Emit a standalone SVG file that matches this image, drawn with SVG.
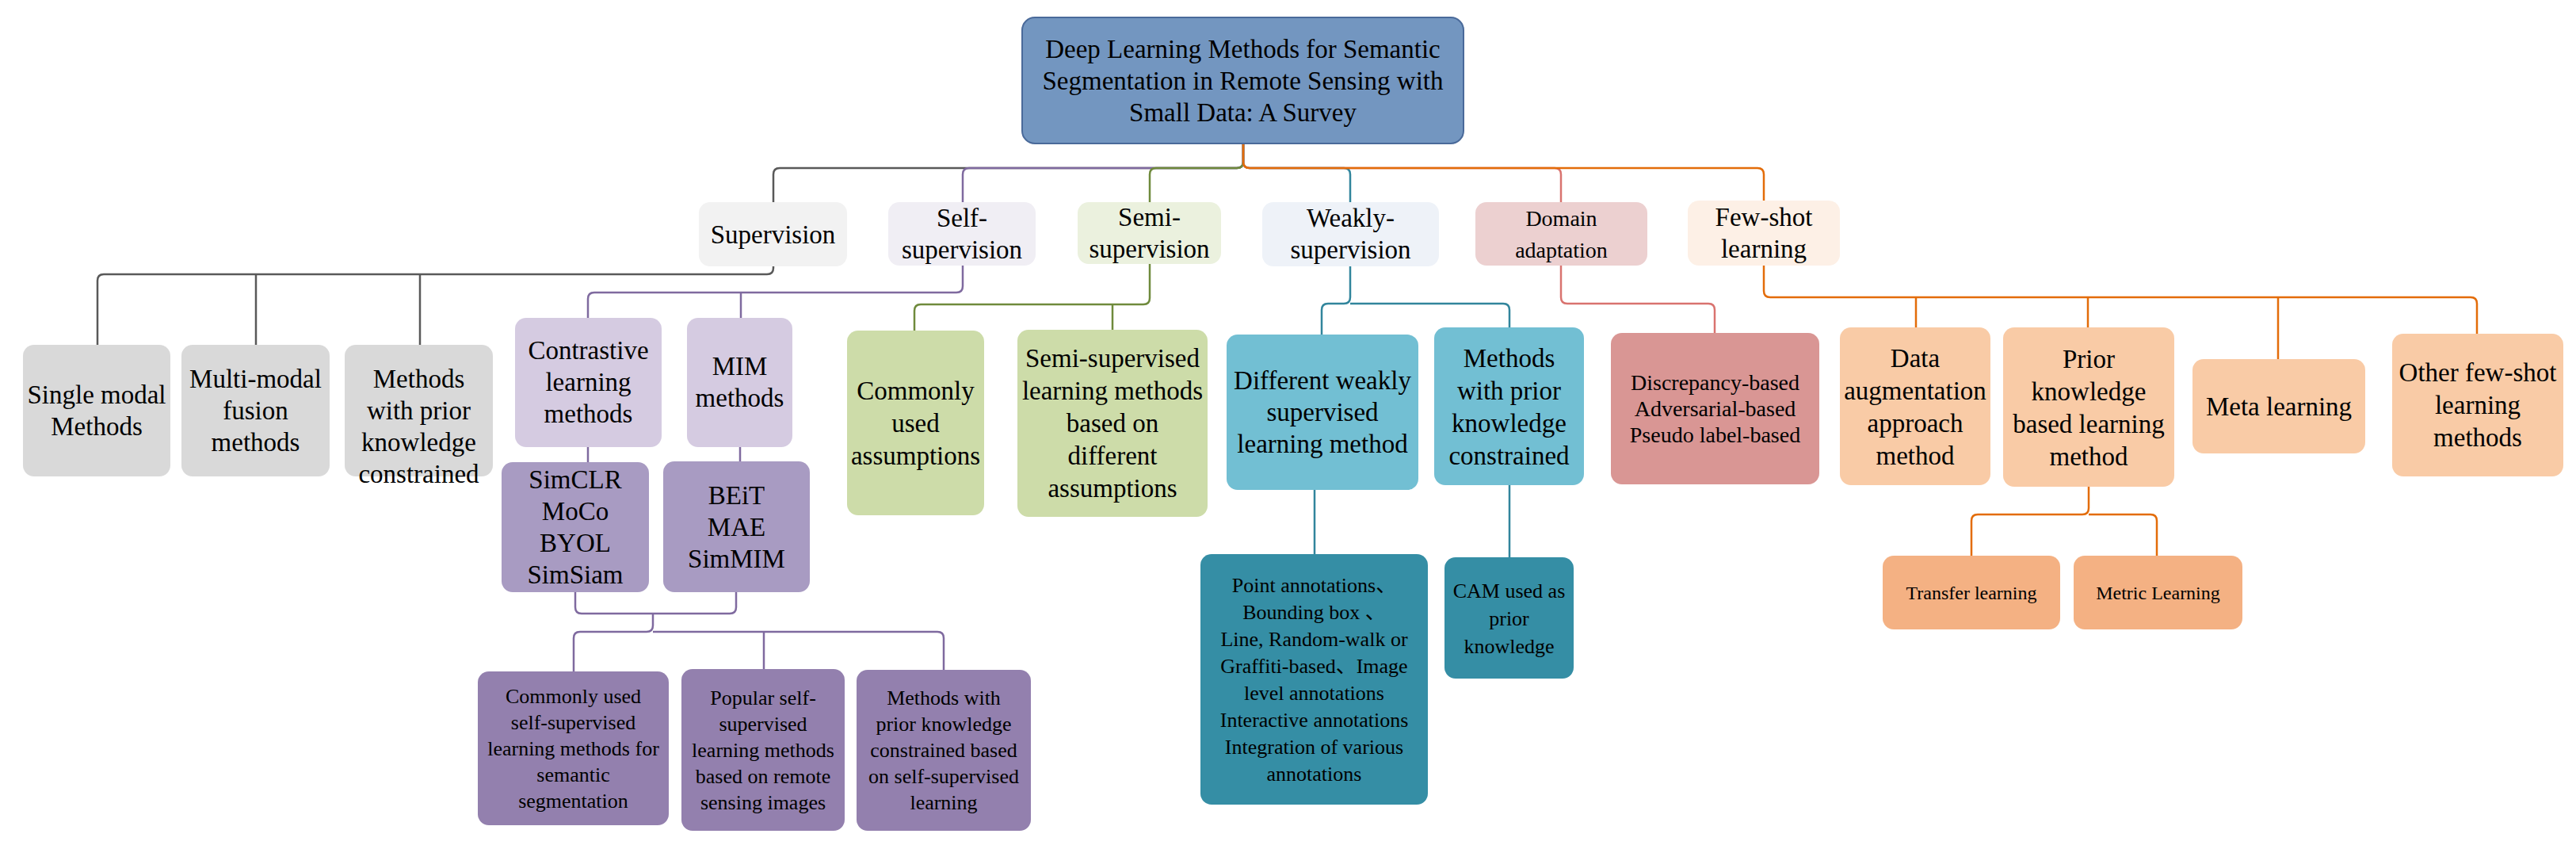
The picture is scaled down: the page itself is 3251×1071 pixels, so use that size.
<svg xmlns="http://www.w3.org/2000/svg" width="3251" height="1071" viewBox="0 0 3251 1071">
<style>
text{font-family:"Liberation Serif","Times New Roman","Noto Sans CJK SC",serif;fill:#000;text-anchor:middle;font-size:33px}
.s{font-size:28px}.t{font-size:26px}.u{font-size:24px}
.c{fill:none;stroke-width:2.5}
</style>
<rect width="3251" height="1071" fill="#fff"/>
<g id="connectors">
<g stroke="#595959" class="c">
<path class="c" d="M1569 181V204Q1569 212 1561 212H984Q976 212 976 220V255"/>
<path class="c" d="M976 336V338Q976 346 968 346H131Q123 346 123 354V435M323 346V435M530 346V435"/>
</g>
<g stroke="#7f6a9f">
<path class="c" d="M1569 181V204Q1569 212 1561 212H1223Q1215 212 1215 220V255"/>
<path class="c" d="M1215 335V361Q1215 369 1207 369H750Q742 369 742 377V401M935 369V401"/>
<path class="c" d="M742 564V583M934 564V582"/>
<path class="c" d="M726 747V766Q726 774 734 774H921Q929 774 929 766V747M824 774V789Q824 797 816 797H732Q724 797 724 805V847M824 797H1183Q1191 797 1191 805V845M964 797V844"/>
</g>
<g stroke="#6f8a3c">
<path class="c" d="M1569 181V204Q1569 212 1561 212H1459Q1451 212 1451 220V255"/>
<path class="c" d="M1451 333V376Q1451 384 1443 384H1162Q1154 384 1154 392V417M1404 384V416"/>
</g>
<g stroke="#31859c">
<path class="c" d="M1569 181V204Q1569 212 1577 212H1696Q1704 212 1704 220V255"/>
<path class="c" d="M1704 336V375Q1704 383 1696 383H1676Q1668 383 1668 391V422M1704 383H1897Q1905 383 1905 391V413"/>
<path class="c" d="M1659 618V699M1905 612V703"/>
</g>
<g stroke="#d9736f">
<path class="c" d="M1569 181V204Q1569 212 1577 212H1962Q1970 212 1970 220V255"/>
<path class="c" d="M1970 335V375Q1970 383 1978 383H2156Q2164 383 2164 391V420"/>
</g>
<g stroke="#e36c09">
<path class="c" d="M1569 181V204Q1569 212 1577 212H2218Q2226 212 2226 220V253"/>
<path class="c" d="M2226 335V367Q2226 375 2234 375H3118Q3126 375 3126 383V421M2418 375V413M2635 375V413M2875 375V453"/>
<path class="c" d="M2636 614V641Q2636 649 2628 649H2496Q2488 649 2488 657V701M2636 649H2714Q2722 649 2722 657V701"/>
</g>
</g>
<g id="root"><rect x="1290" y="22" width="557" height="159" rx="16" fill="#7396c0" stroke="#4a6a9a" stroke-width="2"/>
<text x="1568.5" y="73">Deep Learning Methods for Semantic<tspan x="1568.5" dy="40">Segmentation in Remote Sensing with</tspan><tspan x="1568.5" dy="40">Small Data: A Survey</tspan></text></g>
<g id="supervision"><rect x="882" y="255" width="187" height="81" rx="14" fill="#f2f2f2"/><text x="975.5" y="307">Supervision</text></g>
<g id="self"><rect x="1121" y="255" width="186" height="80" rx="14" fill="#f0eef4"/><text x="1214" y="286">Self-<tspan x="1214" dy="40">supervision</tspan></text></g>
<g id="semi"><rect x="1360" y="255" width="181" height="78" rx="14" fill="#ebf1de"/><text x="1450.5" y="285">Semi-<tspan x="1450.5" dy="40">supervision</tspan></text></g>
<g id="weakly"><rect x="1593" y="255" width="223" height="81" rx="14" fill="#eef2f8"/><text x="1704.5" y="286">Weakly-<tspan x="1704.5" dy="40">supervision</tspan></text></g>
<g id="domain"><rect x="1862" y="255" width="217" height="80" rx="14" fill="#ecd0d0"/><text class="s" x="1970.5" y="285">Domain<tspan x="1970.5" dy="40">adaptation</tspan></text></g>
<g id="fewshot"><rect x="2130" y="253" width="192" height="82" rx="14" fill="#fdf0e6"/><text x="2226" y="285">Few-shot<tspan x="2226" dy="40">learning</tspan></text></g>
<g id="single"><rect x="29" y="435" width="186" height="166" rx="14" fill="#d9d9d9"/><text x="122" y="509">Single modal<tspan x="122" dy="40">Methods</tspan></text></g>
<g id="multi"><rect x="229" y="435" width="187" height="166" rx="14" fill="#d9d9d9"/><text x="322.5" y="489">Multi-modal<tspan x="322.5" dy="40">fusion</tspan><tspan x="322.5" dy="40">methods</tspan></text></g>
<g id="supprior"><rect x="435" y="435" width="187" height="166" rx="14" fill="#d9d9d9"/><text x="528.5" y="489">Methods<tspan x="528.5" dy="40">with prior</tspan><tspan x="528.5" dy="40">knowledge</tspan><tspan x="528.5" dy="40">constrained</tspan></text></g>
<g id="contrastive"><rect x="650" y="401" width="185" height="163" rx="14" fill="#d5cbe1"/><text x="742.5" y="453">Contrastive<tspan x="742.5" dy="40">learning</tspan><tspan x="742.5" dy="40">methods</tspan></text></g>
<g id="mim"><rect x="867" y="401" width="133" height="163" rx="14" fill="#d5cbe1"/><text x="933.5" y="473">MIM<tspan x="933.5" dy="40">methods</tspan></text></g>
<g id="simclr"><rect x="633" y="583" width="186" height="164" rx="14" fill="#a89bc2"/><text x="726" y="616">SimCLR<tspan x="726" dy="40">MoCo</tspan><tspan x="726" dy="40">BYOL</tspan><tspan x="726" dy="40">SimSiam</tspan></text></g>
<g id="beit"><rect x="837" y="582" width="185" height="165" rx="14" fill="#a89bc2"/><text x="929.5" y="636">BEiT<tspan x="929.5" dy="40">MAE</tspan><tspan x="929.5" dy="40">SimMIM</tspan></text></g>
<g id="commonself"><rect x="603" y="847" width="241" height="194" rx="14" fill="#9380ae"/><text class="t" x="723.5" y="887">Commonly used<tspan x="723.5" dy="33">self-supervised</tspan><tspan x="723.5" dy="33">learning methods for</tspan><tspan x="723.5" dy="33">semantic</tspan><tspan x="723.5" dy="33">segmentation</tspan></text></g>
<g id="popular"><rect x="860" y="844" width="206" height="204" rx="14" fill="#9380ae"/><text class="t" x="963" y="889">Popular self-<tspan x="963" dy="33">supervised</tspan><tspan x="963" dy="33">learning methods</tspan><tspan x="963" dy="33">based on remote</tspan><tspan x="963" dy="33">sensing images</tspan></text></g>
<g id="selfprior"><rect x="1081" y="845" width="220" height="203" rx="14" fill="#9380ae"/><text class="t" x="1191" y="889">Methods with<tspan x="1191" dy="33">prior knowledge</tspan><tspan x="1191" dy="33">constrained based</tspan><tspan x="1191" dy="33">on self-supervised</tspan><tspan x="1191" dy="33">learning</tspan></text></g>
<g id="assumptions"><rect x="1069" y="417" width="173" height="233" rx="14" fill="#cddca9"/><text x="1155.5" y="504">Commonly<tspan x="1155.5" dy="41">used</tspan><tspan x="1155.5" dy="41">assumptions</tspan></text></g>
<g id="semimethods"><rect x="1284" y="416" width="240" height="236" rx="14" fill="#cddca9"/><text x="1404" y="463">Semi-supervised<tspan x="1404" dy="41">learning methods</tspan><tspan x="1404" dy="41">based on</tspan><tspan x="1404" dy="41">different</tspan><tspan x="1404" dy="41">assumptions</tspan></text></g>
<g id="diffweak"><rect x="1548" y="422" width="242" height="196" rx="14" fill="#72bfd3"/><text x="1669" y="491">Different weakly<tspan x="1669" dy="40">supervised</tspan><tspan x="1669" dy="40">learning method</tspan></text></g>
<g id="weakprior"><rect x="1810" y="413" width="189" height="199" rx="14" fill="#72bfd3"/><text x="1904.5" y="463">Methods<tspan x="1904.5" dy="41">with prior</tspan><tspan x="1904.5" dy="41">knowledge</tspan><tspan x="1904.5" dy="41">constrained</tspan></text></g>
<g id="points"><rect x="1515" y="699" width="287" height="316" rx="14" fill="#358ea5"/><text class="t" x="1658.5" y="747">Point annotations、<tspan x="1658.5" dy="34">Bounding box 、</tspan><tspan x="1658.5" dy="34">Line, Random-walk  or</tspan><tspan x="1658.5" dy="34">Graffiti-based、Image</tspan><tspan x="1658.5" dy="34">level annotations</tspan><tspan x="1658.5" dy="34">Interactive annotations</tspan><tspan x="1658.5" dy="34">Integration of various</tspan><tspan x="1658.5" dy="34">annotations</tspan></text></g>
<g id="cam"><rect x="1823" y="703" width="163" height="153" rx="14" fill="#358ea5"/><text class="t" x="1904.5" y="754">CAM used as<tspan x="1904.5" dy="35">prior</tspan><tspan x="1904.5" dy="35">knowledge</tspan></text></g>
<g id="discrepancy"><rect x="2033" y="420" width="263" height="191" rx="14" fill="#d99694"/><text class="s" x="2164.5" y="492">Discrepancy-based<tspan x="2164.5" dy="33">Adversarial-based</tspan><tspan x="2164.5" dy="33">Pseudo label-based</tspan></text></g>
<g id="dataaug"><rect x="2322" y="413" width="190" height="199" rx="14" fill="#f9cba6"/><text x="2417" y="463">Data<tspan x="2417" dy="41">augmentation</tspan><tspan x="2417" dy="41">approach</tspan><tspan x="2417" dy="41">method</tspan></text></g>
<g id="priorknow"><rect x="2528" y="413" width="216" height="201" rx="14" fill="#f9cba6"/><text x="2636" y="464">Prior<tspan x="2636" dy="41">knowledge</tspan><tspan x="2636" dy="41">based learning</tspan><tspan x="2636" dy="41">method</tspan></text></g>
<g id="meta"><rect x="2767" y="453" width="218" height="119" rx="14" fill="#f9cba6"/><text x="2876" y="524">Meta learning</text></g>
<g id="otherfew"><rect x="3019" y="421" width="216" height="180" rx="14" fill="#f9cba6"/><text x="3127" y="481">Other few-shot<tspan x="3127" dy="41">learning</tspan><tspan x="3127" dy="41">methods</tspan></text></g>
<g id="transfer"><rect x="2376" y="701" width="224" height="93" rx="14" fill="#f4b183"/><text class="u" x="2488" y="756">Transfer learning</text></g>
<g id="metric"><rect x="2617" y="701" width="213" height="93" rx="14" fill="#f4b183"/><text class="u" x="2723.5" y="756">Metric Learning</text></g>
</svg>
